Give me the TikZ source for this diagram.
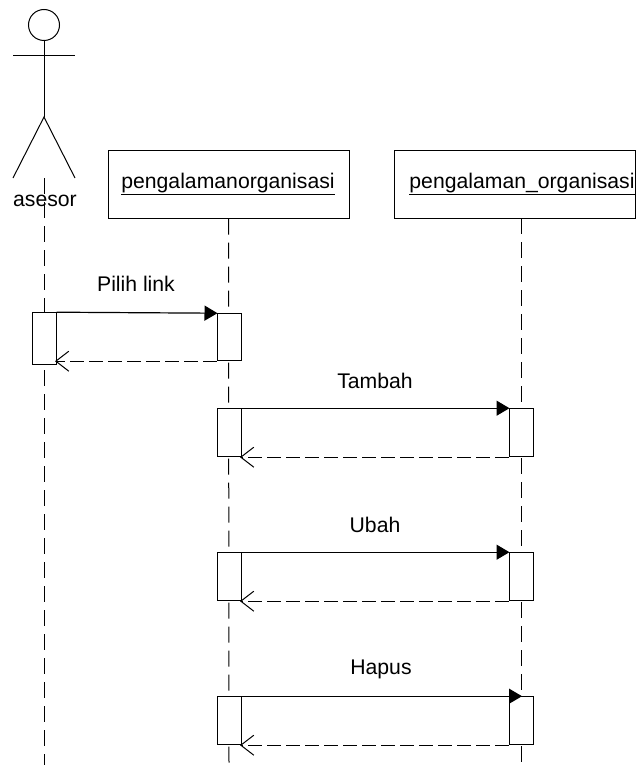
\documentclass[tikz,border=0pt]{standalone}
\usepackage{fontspec}
\setmainfont{Liberation Sans}
\usetikzlibrary{arrows.meta,calc}
\tikzset{
  every node/.style={font=\fontsize{21.2pt}{25pt}\selectfont,text=black},
  obj/.style={draw,line width=1pt,minimum width=241pt,minimum height=68pt,inner sep=0pt,fill=white},
  bar/.style={draw,line width=1pt,minimum width=24pt,inner sep=0pt,fill=white},
  life/.style={line width=1pt,dash pattern=on 16pt off 8pt},
  msg/.style={line width=1.2pt,shorten >=-1pt,-{Triangle[length=13pt,width=15pt]}},
  ret/.style={line width=1.2pt,dash pattern=on 14pt off 5pt,shorten >=-1.5pt,-{Straight Barb[length=13pt,width=20pt,line width=1pt]}},
  limb/.style={line width=1pt},
  lbl/.style={inner sep=0pt}
}
\begin{document}
\begin{tikzpicture}[x=1pt,y=-1pt]
\useasboundingbox (0,0) rectangle (636,765);
% actor
\node[draw,circle,line width=1pt,minimum size=31pt,inner sep=0pt] (head) at (44,25) {};
\coordinate (armL) at (13,56);
\coordinate (armR) at (75,56);
\coordinate (hip) at (44,117);
\coordinate (footL) at (13,178);
\coordinate (footR) at (75,178);
\draw[limb] (head.south) -- (hip);
\draw[limb] (armL) -- (armR);
\draw[limb] (footL) -- (hip) -- (footR);
% lifelines
\coordinate (l0t) at (44.5,178);
\coordinate (l0b) at (44.5,765);
\coordinate (l1b) at (229,765);
\coordinate (l2t) at (521,218);
\coordinate (l2b) at (521,765);
\draw[life] (l0t) -- (l0b);
\node[lbl] (asesor) at (45,200.5) {asesor};
% objects
\node[obj] (o1) at (228.5,184) {};
\node[lbl] (o1t) at (228,184) {\underline{pengalamanorganisasi}};
\node[obj] (o2) at (515,184) {};
\node[lbl] (o2t) at (522,184) {\underline{pengalaman\_organisasi}};
\draw[life] (o1.south) -- (l1b);
\draw[life] (l2t) -- (l2b);
% activation bars
\node[bar,minimum height=52pt] (a0) at (44,338.7) {};
\node[bar,minimum height=47pt] (a1) at (229,337.2) {};
\node[bar,minimum height=48pt] (b1) at (229,432.7) {};
\node[bar,minimum height=48pt] (b2) at (521,432.7) {};
\node[bar,minimum height=48pt] (c1) at (229,576.7) {};
\node[bar,minimum height=48pt] (c2) at (521,576.7) {};
\node[bar,minimum height=48pt] (d1) at (229,720.7) {};
\node[bar,minimum height=48pt] (d2) at (521,720.7) {};
% messages
\draw[msg] (a0.north east) -- (a1.north west);
\draw[ret] (a1.south west) -- (a1.south west -| a0.east);
\draw[msg] (b1.north east) -- (b2.north west);
\draw[ret] (b2.south west) -- (b1.south east);
\draw[msg] (c1.north east) -- (c2.north west);
\draw[ret] (c2.south west) -- (c1.south east);
\draw[msg] (d1.north east) -- (d2.north);
\draw[ret] (d2.south west) -- (d1.south east);
% labels
\node[lbl] (m1) at (136,284) {Pilih link};
\node[lbl] (m2) at (375,381) {Tambah};
\node[lbl] (m3) at (375,525) {Ubah};
\node[lbl] (m4) at (381,669) {Hapus};
\end{tikzpicture}
\end{document}
